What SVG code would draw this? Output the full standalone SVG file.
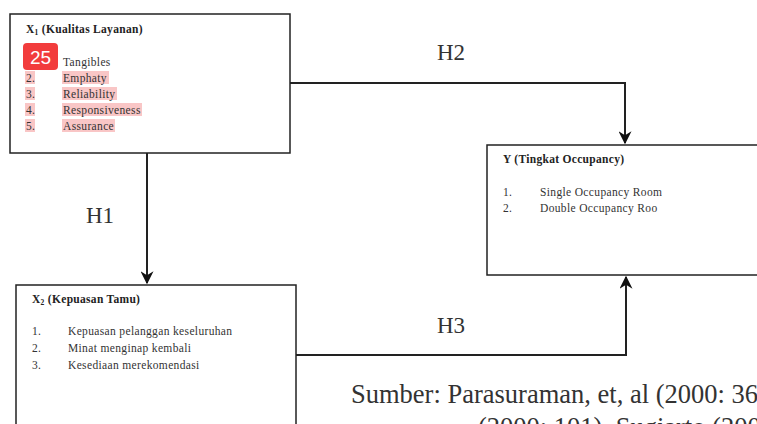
<svg xmlns="http://www.w3.org/2000/svg" width="757" height="424" viewBox="0 0 757 424">
<defs>
<marker id="arr" viewBox="0 0 10 10" refX="9" refY="5" markerWidth="13" markerHeight="13" markerUnits="userSpaceOnUse" orient="auto">
<path d="M0,0 L10,5 L0,10 L3,5 Z" fill="#111"/>
</marker>
<style>
.box{fill:#fff;stroke:#222;stroke-width:1.5}
.title{font-family:"Liberation Serif",serif;font-weight:bold;font-size:11.5px;fill:#222;letter-spacing:0.3px}
.item{font-family:"Liberation Serif",serif;font-size:11.5px;fill:#333;letter-spacing:0.35px}
.hl{fill:#f9c6c6}
.lbl{font-family:"Liberation Serif",serif;font-size:23px;fill:#333}
.src{font-family:"Liberation Serif",serif;font-size:26.5px;fill:#333}
.conn{fill:none;stroke:#222;stroke-width:2}
</style>
</defs>
<rect width="757" height="424" fill="#fff"/>
<g id="connectors">
<path class="conn" d="M147,153 V283" marker-end="url(#arr)"/>
<path class="conn" d="M290,83 H625 V143" marker-end="url(#arr)"/>
<path class="conn" d="M296,355 H626 V277" marker-end="url(#arr)"/>
<text class="lbl" x="86" y="223">H1</text>
<text class="lbl" x="437" y="60">H2</text>
<text class="lbl" x="437" y="333">H3</text>
</g>
<g id="x1">
<rect class="box" x="10" y="14" width="280" height="139"/>
<text class="title" x="26" y="33">X<tspan font-size="7.5" dy="2">1</tspan><tspan dy="-2"> (Kualitas Layanan)</tspan></text>
<rect class="hl" x="25" y="71" width="10" height="13"/>
<rect class="hl" x="62" y="71" width="47" height="13"/>
<rect class="hl" x="25" y="87" width="10" height="13"/>
<rect class="hl" x="62" y="87" width="55" height="13"/>
<rect class="hl" x="25" y="103" width="10" height="13"/>
<rect class="hl" x="62" y="103" width="80" height="13"/>
<rect class="hl" x="25" y="119" width="10" height="13"/>
<rect class="hl" x="62" y="119" width="53" height="13"/>
<text class="item" x="26" y="66">1.</text>
<text class="item" x="63" y="66">Tangibles</text>
<text class="item" x="26" y="82">2.</text>
<text class="item" x="63" y="82">Emphaty</text>
<text class="item" x="26" y="98">3.</text>
<text class="item" x="63" y="98">Reliability</text>
<text class="item" x="26" y="114">4.</text>
<text class="item" x="63" y="114">Responsiveness</text>
<text class="item" x="26" y="130">5.</text>
<text class="item" x="63" y="130">Assurance</text>
<rect x="23" y="43" width="35" height="27" rx="4" fill="#f23c3c"/>
<text x="40.5" y="63.5" text-anchor="middle" font-family="Liberation Sans,sans-serif" font-size="19" fill="#fff">25</text>
</g>
<g id="y">
<rect class="box" x="487" y="145" width="275" height="130"/>
<text class="title" x="503" y="163">Y (Tingkat Occupancy)</text>
<text class="item" x="503" y="196">1.</text>
<text class="item" x="540" y="196">Single Occupancy Room</text>
<text class="item" x="503" y="212">2.</text>
<text class="item" x="540" y="212">Double Occupancy Roo</text>
</g>
<g id="x2">
<rect class="box" x="16" y="285" width="280" height="150"/>
<text class="title" x="32" y="303">X<tspan font-size="7.5" dy="2">2</tspan><tspan dy="-2"> (Kepuasan Tamu)</tspan></text>
<text class="item" x="32" y="335">1.</text>
<text class="item" x="68" y="335">Kepuasan pelanggan keseluruhan</text>
<text class="item" x="32" y="352">2.</text>
<text class="item" x="68" y="352">Minat menginap kembali</text>
<text class="item" x="32" y="369">3.</text>
<text class="item" x="68" y="369">Kesediaan merekomendasi</text>
</g>
<g id="source">
<text class="src" x="351" y="403">Sumber: Parasuraman, et, al (2000: 36</text>
<text class="src" x="478" y="436">(2000: 101), Sugiarto (2009</text>
</g>
</svg>
